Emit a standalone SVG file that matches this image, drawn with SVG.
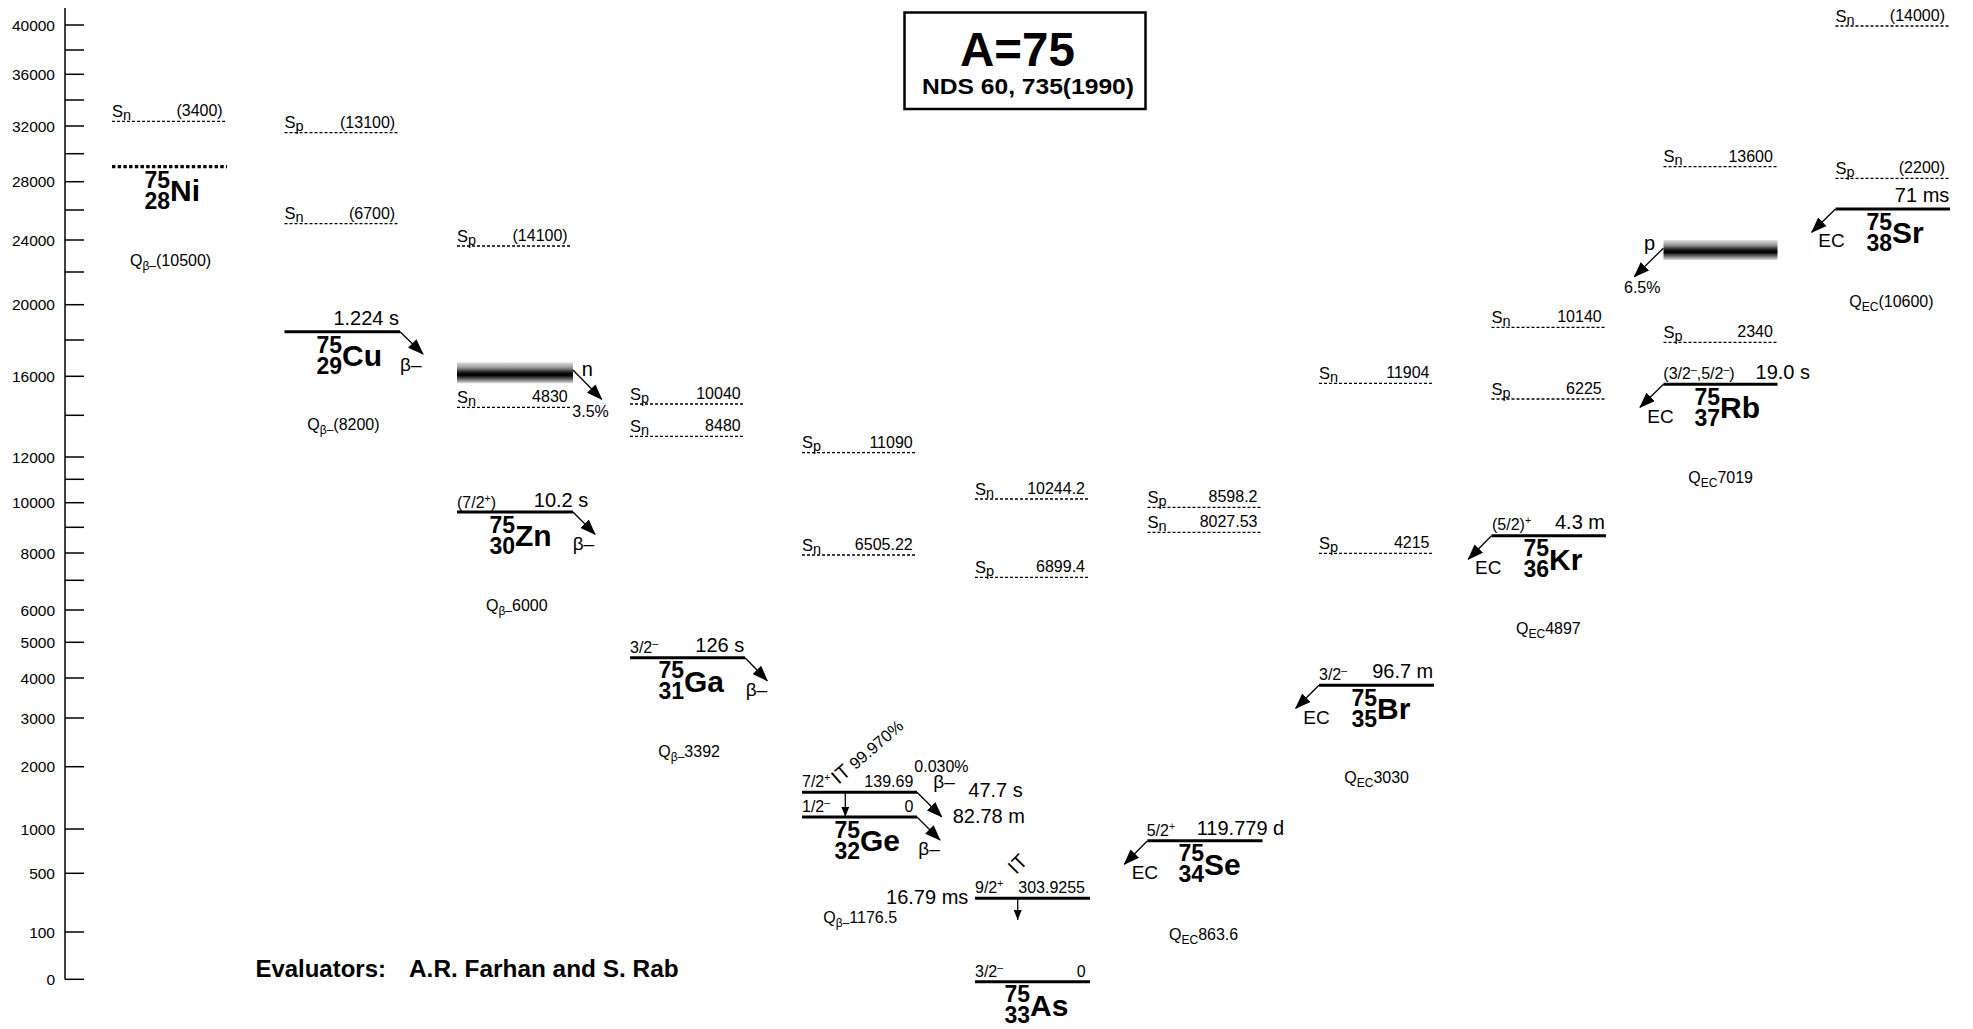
<svg xmlns="http://www.w3.org/2000/svg" width="1973" height="1029" viewBox="0 0 1973 1029">
<style>
text{font-family:"Liberation Sans",Arial,sans-serif;fill:#000}
.ax{font-size:15.5px;text-anchor:end}
.s{font-size:16.5px}
.sb{font-size:14.5px}
.v{font-size:16px;text-anchor:end}
.hl{font-size:20px}
.hle{font-size:20px;text-anchor:end}
.sp{font-size:16px}
.spe{font-size:16px;text-anchor:end}
.su{font-size:10.5px}
.el{font-size:30px;font-weight:bold}
.nu{font-size:23px;font-weight:bold;text-anchor:end}
.q{font-size:16px}
.qs{font-size:12px}
.dec{font-size:19px}
.pc{font-size:16px}
.lvl{stroke:#000;stroke-width:3}
.sep{stroke:#000;stroke-width:1.3;stroke-dasharray:3 2}
.arr{stroke:#000;stroke-width:1.3;fill:none;marker-end:url(#ah)}
.arrs{stroke:#000;stroke-width:1.3;fill:none;marker-end:url(#ahs)}
.tk{stroke:#000;stroke-width:1.5}
</style>
<defs>
<marker id="ah" viewBox="0 0 16 12" refX="15" refY="6" markerWidth="16" markerHeight="12" markerUnits="userSpaceOnUse" orient="auto"><path d="M0,0 L16,6 L0,12 z" fill="#000"/></marker>
<marker id="ahs" viewBox="0 0 10 8" refX="10" refY="4" markerWidth="10" markerHeight="8" markerUnits="userSpaceOnUse" orient="auto"><path d="M0,0 L10,4 L0,8 z" fill="#000"/></marker>
<linearGradient id="band" x1="0" y1="0" x2="0" y2="1">
<stop offset="0" stop-color="#e2e2e2"/>
<stop offset="0.25" stop-color="#9a9a9a"/>
<stop offset="0.5" stop-color="#111"/>
<stop offset="0.62" stop-color="#000"/>
<stop offset="0.8" stop-color="#666"/>
<stop offset="1" stop-color="#e0e0e0"/>
</linearGradient>
</defs>
<rect width="1973" height="1029" fill="#fff"/>

<g id="axis">
<line class="tk" x1="65" y1="8" x2="65" y2="979.3"/>
<g class="tk">
<line x1="65" y1="25" x2="84" y2="25"/><line x1="65" y1="50" x2="84" y2="50"/>
<line x1="65" y1="74.3" x2="84" y2="74.3"/><line x1="65" y1="100" x2="84" y2="100"/>
<line x1="65" y1="126" x2="84" y2="126"/><line x1="65" y1="153.7" x2="84" y2="153.7"/>
<line x1="65" y1="181.7" x2="84" y2="181.7"/><line x1="65" y1="210" x2="84" y2="210"/>
<line x1="65" y1="240" x2="84" y2="240"/><line x1="65" y1="272" x2="84" y2="272"/>
<line x1="65" y1="304.7" x2="84" y2="304.7"/><line x1="65" y1="340" x2="84" y2="340"/>
<line x1="65" y1="376.3" x2="84" y2="376.3"/><line x1="65" y1="415.3" x2="84" y2="415.3"/>
<line x1="65" y1="457" x2="84" y2="457"/><line x1="65" y1="479.3" x2="84" y2="479.3"/>
<line x1="65" y1="502.7" x2="84" y2="502.7"/><line x1="65" y1="527.3" x2="84" y2="527.3"/>
<line x1="65" y1="553" x2="84" y2="553"/><line x1="65" y1="580.3" x2="84" y2="580.3"/>
<line x1="65" y1="610" x2="84" y2="610"/><line x1="65" y1="642.3" x2="84" y2="642.3"/>
<line x1="65" y1="678" x2="84" y2="678"/><line x1="65" y1="718" x2="84" y2="718"/>
<line x1="65" y1="766.7" x2="84" y2="766.7"/><line x1="65" y1="829" x2="84" y2="829"/>
<line x1="65" y1="873.3" x2="84" y2="873.3"/><line x1="65" y1="932" x2="84" y2="932"/>
<line x1="65" y1="979.3" x2="84" y2="979.3"/>
</g>
<text class="ax" x="55" y="30.5">40000</text>
<text class="ax" x="55" y="79.8">36000</text>
<text class="ax" x="55" y="131.5">32000</text>
<text class="ax" x="55" y="187.2">28000</text>
<text class="ax" x="55" y="245.5">24000</text>
<text class="ax" x="55" y="310.2">20000</text>
<text class="ax" x="55" y="381.8">16000</text>
<text class="ax" x="55" y="462.5">12000</text>
<text class="ax" x="55" y="508.2">10000</text>
<text class="ax" x="55" y="558.5">8000</text>
<text class="ax" x="55" y="615.5">6000</text>
<text class="ax" x="55" y="647.8">5000</text>
<text class="ax" x="55" y="683.5">4000</text>
<text class="ax" x="55" y="723.5">3000</text>
<text class="ax" x="55" y="772.2">2000</text>
<text class="ax" x="55" y="834.5">1000</text>
<text class="ax" x="55" y="878.8">500</text>
<text class="ax" x="55" y="937.5">100</text>
<text class="ax" x="55" y="984.8">0</text>
</g>

<g id="title">
<rect x="904.5" y="12.5" width="241" height="96.5" fill="none" stroke="#000" stroke-width="2.5"/>
<text x="1017.5" y="65.7" font-size="47.5" font-weight="bold" text-anchor="middle">A=75</text>
<text x="1028" y="94" font-size="22" font-weight="bold" text-anchor="middle" textLength="212" lengthAdjust="spacingAndGlyphs">NDS 60, 735(1990)</text>
</g>

<g id="evaluators">
<text x="255.4" y="977" font-size="23.5" font-weight="bold" textLength="130.6" lengthAdjust="spacingAndGlyphs">Evaluators:</text>
<text x="409" y="977" font-size="23.5" font-weight="bold" textLength="269.6" lengthAdjust="spacingAndGlyphs">A.R. Farhan and S. Rab</text>
</g>

<g id="Ni75">
<line class="sep" x1="112" y1="121.3" x2="227" y2="121.3"/>
<text class="s" x="112" y="116.8">S<tspan class="sb" dy="3">n</tspan></text>
<text class="v" x="222.7" y="116.3">(3400)</text>
<line x1="112" y1="166.7" x2="227" y2="166.7" stroke="#000" stroke-width="3.2" stroke-dasharray="3.4 2.3"/>
<text class="nu" x="170" y="187.5">75</text><text class="nu" x="170" y="209">28</text><text class="el" x="170" y="200.5">Ni</text>
<text class="q" x="130" y="265.7">Q<tspan class="qs" dy="4">β–</tspan><tspan dy="-4">(10500)</tspan></text>
</g>

<g id="Cu75">
<line class="sep" x1="284.5" y1="132.7" x2="399.5" y2="132.7"/>
<text class="s" x="284.5" y="128.2">S<tspan class="sb" dy="3">p</tspan></text>
<text class="v" x="395.2" y="127.7">(13100)</text>
<line class="sep" x1="284.5" y1="223.7" x2="399.5" y2="223.7"/>
<text class="s" x="284.5" y="219.2">S<tspan class="sb" dy="3">n</tspan></text>
<text class="v" x="395.2" y="218.7">(6700)</text>
<line class="lvl" x1="284.5" y1="331.7" x2="400" y2="331.7"/>
<text class="hle" x="399" y="325">1.224 s</text>
<text class="nu" x="342" y="352.7">75</text><text class="nu" x="342" y="373.7">29</text><text class="el" x="342" y="365.7">Cu</text>
<text class="dec" x="400" y="370.7">β–</text>
<text class="q" x="307.3" y="430">Q<tspan class="qs" dy="4">β–</tspan><tspan dy="-4">(8200)</tspan></text>
</g>

<g id="Zn75">
<line class="sep" x1="457" y1="246" x2="572" y2="246"/>
<text class="s" x="457" y="241.5">S<tspan class="sb" dy="3">p</tspan></text>
<text class="v" x="567.7" y="241">(14100)</text>
<rect x="457" y="362.3" width="116" height="21" fill="url(#band)"/>
<text class="hl" x="581.7" y="375.7">n</text>
<text class="pc" x="572.3" y="416.7">3.5%</text>
<line class="sep" x1="457" y1="407.3" x2="572" y2="407.3"/>
<text class="s" x="457" y="402.8">S<tspan class="sb" dy="3">n</tspan></text>
<text class="v" x="567.7" y="402.3">4830</text>
<line class="lvl" x1="457" y1="512" x2="573" y2="512"/>
<text class="sp" x="457" y="508.3">(7/2<tspan class="su" dy="-6">+</tspan><tspan dy="6">)</tspan></text>
<text class="hle" x="588.3" y="506.7">10.2 s</text>
<text class="nu" x="515" y="532.7">75</text><text class="nu" x="515" y="553.7">30</text><text class="el" x="515" y="545.7">Zn</text>
<text class="dec" x="572.7" y="550">β–</text>
<text class="q" x="486" y="611">Q<tspan class="qs" dy="4">β–</tspan><tspan dy="-4">6000</tspan></text>
</g>

<g id="Ga75">
<line class="sep" x1="630" y1="404" x2="745" y2="404"/>
<text class="s" x="630" y="399.5">S<tspan class="sb" dy="3">p</tspan></text>
<text class="v" x="740.7" y="399">10040</text>
<line class="sep" x1="630" y1="436.3" x2="745" y2="436.3"/>
<text class="s" x="630" y="431.8">S<tspan class="sb" dy="3">n</tspan></text>
<text class="v" x="740.7" y="431.3">8480</text>
<line class="lvl" x1="630" y1="657.7" x2="745" y2="657.7"/>
<text class="sp" x="630" y="652.7">3/2<tspan class="su" dy="-6">–</tspan></text>
<text class="hle" x="744.3" y="651.7">126 s</text>
<text class="nu" x="684" y="678.4">75</text><text class="nu" x="684" y="699.4">31</text><text class="el" x="684" y="691.7">Ga</text>
<text class="dec" x="745.7" y="696">β–</text>
<text class="q" x="658.3" y="756.7">Q<tspan class="qs" dy="4">β–</tspan><tspan dy="-4">3392</tspan></text>
</g>

<g id="Ge75">
<line class="sep" x1="802" y1="452.7" x2="917" y2="452.7"/>
<text class="s" x="802" y="448.2">S<tspan class="sb" dy="3">p</tspan></text>
<text class="v" x="912.7" y="447.7">11090</text>
<line class="sep" x1="802" y1="555" x2="917" y2="555"/>
<text class="s" x="802" y="550.5">S<tspan class="sb" dy="3">n</tspan></text>
<text class="v" x="912.7" y="550">6505.22</text>
<line class="lvl" x1="802" y1="792.3" x2="917" y2="792.3"/>
<text class="sp" x="802" y="787.3">7/2<tspan class="su" dy="-6">+</tspan></text>
<text class="v" x="913.3" y="787.3">139.69</text>
<text transform="translate(838.5,785) rotate(-41)"><tspan font-size="20">IT</tspan><tspan font-size="16.5"> 99.970%</tspan></text>
<text class="pc" x="914.3" y="771.7">0.030%</text>
<text class="dec" x="933.3" y="788">β–</text>
<text class="hl" x="968.3" y="797.3">47.7 s</text>
<text class="hl" x="952.7" y="822.7">82.78 m</text>
<line class="lvl" x1="802" y1="817" x2="917" y2="817"/>
<text class="sp" x="802" y="811.7">1/2<tspan class="su" dy="-6">–</tspan></text>
<text class="v" x="913.3" y="811.7">0</text>
<text class="nu" x="860" y="837.7">75</text><text class="nu" x="860" y="858.7">32</text><text class="el" x="860" y="851">Ge</text>
<text class="dec" x="918.3" y="855">β–</text>
<text class="q" x="823.3" y="923.3">Q<tspan class="qs" dy="4">β–</tspan><tspan dy="-4">1176.5</tspan></text>
</g>

<g id="As75">
<line class="sep" x1="975" y1="499" x2="1090" y2="499"/>
<text class="s" x="975" y="494.5">S<tspan class="sb" dy="3">n</tspan></text>
<text class="v" x="1085" y="494">10244.2</text>
<line class="sep" x1="975" y1="577.3" x2="1090" y2="577.3"/>
<text class="s" x="975" y="572.8">S<tspan class="sb" dy="3">p</tspan></text>
<text class="v" x="1085" y="572.3">6899.4</text>
<line class="lvl" x1="975" y1="898.3" x2="1090" y2="898.3"/>
<text class="sp" x="975" y="893.3">9/2<tspan class="su" dy="-6">+</tspan></text>
<text class="v" x="1085" y="893.3">303.9255</text>
<text class="hle" x="968.3" y="904">16.79 ms</text>
<text font-size="20" transform="translate(1016,875) rotate(-45)">IT</text>
<line class="lvl" x1="975" y1="981.7" x2="1090" y2="981.7"/>
<text class="sp" x="975" y="976.7">3/2<tspan class="su" dy="-6">–</tspan></text>
<text class="v" x="1085.7" y="976.7">0</text>
<text class="nu" x="1030" y="1002.4">75</text><text class="nu" x="1030" y="1023.4">33</text><text class="el" x="1030" y="1015.7">As</text>
</g>

<g id="Se75">
<line class="sep" x1="1147.5" y1="507.3" x2="1262.5" y2="507.3"/>
<text class="s" x="1147.5" y="502.8">S<tspan class="sb" dy="3">p</tspan></text>
<text class="v" x="1257.5" y="502.3">8598.2</text>
<line class="sep" x1="1147.5" y1="532.3" x2="1262.5" y2="532.3"/>
<text class="s" x="1147.5" y="527.8">S<tspan class="sb" dy="3">n</tspan></text>
<text class="v" x="1257.5" y="527.3">8027.53</text>
<line class="lvl" x1="1147.5" y1="840.7" x2="1262.5" y2="840.7"/>
<text class="sp" x="1146.7" y="835.7">5/2<tspan class="su" dy="-6">+</tspan></text>
<text class="hl" x="1196.7" y="835">119.779 d</text>
<text class="dec" x="1131.7" y="879.3">EC</text>
<text class="nu" x="1204" y="861.4">75</text><text class="nu" x="1204" y="882.4">34</text><text class="el" x="1204" y="874.7">Se</text>
<text class="q" x="1169" y="940">Q<tspan class="qs" dy="4">EC</tspan><tspan dy="-4">863.6</tspan></text>
</g>

<g id="Br75">
<line class="sep" x1="1319" y1="383.3" x2="1434" y2="383.3"/>
<text class="s" x="1319" y="378.8">S<tspan class="sb" dy="3">n</tspan></text>
<text class="v" x="1429.5" y="378.3">11904</text>
<line class="sep" x1="1319" y1="553.3" x2="1434" y2="553.3"/>
<text class="s" x="1319" y="548.8">S<tspan class="sb" dy="3">p</tspan></text>
<text class="v" x="1429.5" y="548.3">4215</text>
<line class="lvl" x1="1319" y1="685.3" x2="1434" y2="685.3"/>
<text class="sp" x="1319" y="680">3/2<tspan class="su" dy="-6">–</tspan></text>
<text class="hle" x="1433.3" y="678.3">96.7 m</text>
<text class="dec" x="1303.3" y="724">EC</text>
<text class="nu" x="1377" y="706">75</text><text class="nu" x="1377" y="727">35</text><text class="el" x="1377" y="719.3">Br</text>
<text class="q" x="1344.3" y="783.3">Q<tspan class="qs" dy="4">EC</tspan><tspan dy="-4">3030</tspan></text>
</g>

<g id="Kr75">
<line class="sep" x1="1491.5" y1="327.3" x2="1606" y2="327.3"/>
<text class="s" x="1491.5" y="322.8">S<tspan class="sb" dy="3">n</tspan></text>
<text class="v" x="1601.7" y="322.3">10140</text>
<line class="sep" x1="1491.5" y1="399" x2="1606" y2="399"/>
<text class="s" x="1491.5" y="394.5">S<tspan class="sb" dy="3">p</tspan></text>
<text class="v" x="1601.7" y="394">6225</text>
<line class="lvl" x1="1491.5" y1="535.7" x2="1606" y2="535.7"/>
<text class="sp" x="1492" y="530">(5/2)<tspan class="su" dy="-6">+</tspan></text>
<text class="hle" x="1605" y="529">4.3 m</text>
<text class="dec" x="1475" y="574">EC</text>
<text class="nu" x="1549" y="556.4">75</text><text class="nu" x="1549" y="577.4">36</text><text class="el" x="1549" y="569.7">Kr</text>
<text class="q" x="1516" y="634">Q<tspan class="qs" dy="4">EC</tspan><tspan dy="-4">4897</tspan></text>
</g>

<g id="Rb75">
<line class="sep" x1="1663.5" y1="166.7" x2="1777.5" y2="166.7"/>
<text class="s" x="1663.5" y="162.2">S<tspan class="sb" dy="3">n</tspan></text>
<text class="v" x="1772.9" y="161.7">13600</text>
<rect x="1663.5" y="240" width="114" height="20" fill="url(#band)"/>
<text class="hl" x="1644" y="250">p</text>
<text class="pc" x="1624" y="293.3">6.5%</text>
<line class="sep" x1="1663.5" y1="342.3" x2="1777.5" y2="342.3"/>
<text class="s" x="1663.5" y="337.8">S<tspan class="sb" dy="3">p</tspan></text>
<text class="v" x="1772.9" y="337.3">2340</text>
<line class="lvl" x1="1663.5" y1="384.3" x2="1777.5" y2="384.3"/>
<text class="sp" x="1663.3" y="379">(3/2<tspan class="su" dy="-6">–</tspan><tspan dy="6">,5/2</tspan><tspan class="su" dy="-6">–</tspan><tspan dy="6">)</tspan></text>
<text class="hle" x="1810" y="379">19.0 s</text>
<text class="dec" x="1647.3" y="422.7">EC</text>
<text class="nu" x="1720" y="405">75</text><text class="nu" x="1720" y="426">37</text><text class="el" x="1720" y="418.3">Rb</text>
<text class="q" x="1688.3" y="482.7">Q<tspan class="qs" dy="4">EC</tspan><tspan dy="-4">7019</tspan></text>
</g>

<g id="Sr75">
<line class="sep" x1="1835.5" y1="26" x2="1949.5" y2="26"/>
<text class="s" x="1835.5" y="21.5">S<tspan class="sb" dy="3">n</tspan></text>
<text class="v" x="1945" y="21">(14000)</text>
<line class="sep" x1="1835.5" y1="178.3" x2="1949.5" y2="178.3"/>
<text class="s" x="1835.5" y="173.8">S<tspan class="sb" dy="3">p</tspan></text>
<text class="v" x="1945" y="173.3">(2200)</text>
<line class="lvl" x1="1835.5" y1="209" x2="1950" y2="209"/>
<text class="hle" x="1949.3" y="202.3">71 ms</text>
<text class="dec" x="1818.3" y="247.3">EC</text>
<text class="nu" x="1892" y="229.7">75</text><text class="nu" x="1892" y="250.7">38</text><text class="el" x="1892" y="243">Sr</text>
<text class="q" x="1849.3" y="307.3">Q<tspan class="qs" dy="4">EC</tspan><tspan dy="-4">(10600)</tspan></text>
</g>

<g id="connectors">
<line class="arr" x1="400" y1="331.7" x2="423" y2="354"/>
<line class="arr" x1="573" y1="370" x2="601.7" y2="399.3"/>
<line class="arr" x1="573" y1="512" x2="595" y2="534.3"/>
<line class="arr" x1="745" y1="657.7" x2="767.3" y2="680.7"/>
<line class="arr" x1="917" y1="792.3" x2="941.7" y2="816.7"/>
<line class="arr" x1="917" y1="817" x2="940" y2="840"/>
<line class="arrs" x1="845.3" y1="792.3" x2="845.3" y2="816.7"/>
<line class="arrs" x1="1017.7" y1="898.3" x2="1017.7" y2="920"/>
<line class="arr" x1="1147.5" y1="840.7" x2="1124.3" y2="864.3"/>
<line class="arr" x1="1319" y1="685.3" x2="1295.7" y2="708.3"/>
<line class="arr" x1="1491.5" y1="535.7" x2="1468.3" y2="559.3"/>
<line class="arr" x1="1663.3" y1="248.3" x2="1634.3" y2="276.7"/>
<line class="arr" x1="1663.5" y1="384.3" x2="1640" y2="407.3"/>
<line class="arr" x1="1835.5" y1="209" x2="1811.7" y2="232.3"/>
</g>
</svg>
